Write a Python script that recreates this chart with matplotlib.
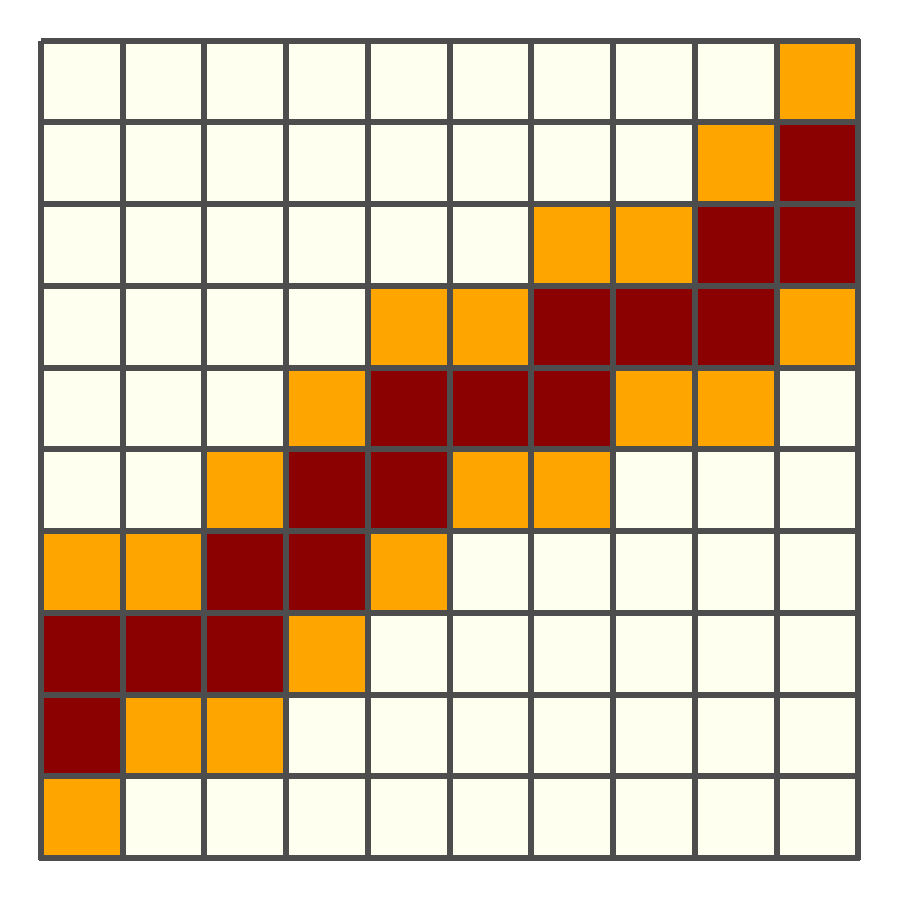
import numpy as np
import matplotlib
matplotlib.use("Agg")
import matplotlib.pyplot as plt
from matplotlib.colors import ListedColormap, BoundaryNorm

levels = ["low", "mid", "high"]
level_colors = ["#FEFFEE", "#FFA500", "#8B0000"]
grid_rows = [
    [0, 0, 0, 0, 0, 0, 0, 0, 0, 1],
    [0, 0, 0, 0, 0, 0, 0, 0, 1, 2],
    [0, 0, 0, 0, 0, 0, 1, 1, 2, 2],
    [0, 0, 0, 0, 1, 1, 2, 2, 2, 1],
    [0, 0, 0, 1, 2, 2, 2, 1, 1, 0],
    [0, 0, 1, 2, 2, 1, 1, 0, 0, 0],
    [1, 1, 2, 2, 1, 0, 0, 0, 0, 0],
    [2, 2, 2, 1, 0, 0, 0, 0, 0, 0],
    [2, 1, 1, 0, 0, 0, 0, 0, 0, 0],
    [1, 0, 0, 0, 0, 0, 0, 0, 0, 0],
]

data = np.array(grid_rows)
fig = plt.figure(figsize=(9, 9), dpi=100)
ax = fig.add_axes([0.0456, 0.0467, 0.908, 0.908])
cmap = ListedColormap(level_colors)
norm = BoundaryNorm([-0.5, 0.5, 1.5, 2.5], cmap.N)
mesh = ax.pcolormesh(data, cmap=cmap, norm=norm, edgecolors="#4D4D4D", linewidth=4.2)
mesh.set_joinstyle("round")
mesh.set_clip_on(False)
ax.set_xlim(0, data.shape[1])
ax.set_ylim(data.shape[0], 0)
ax.set_axis_off()
fig.savefig("out.png", dpi=100)
